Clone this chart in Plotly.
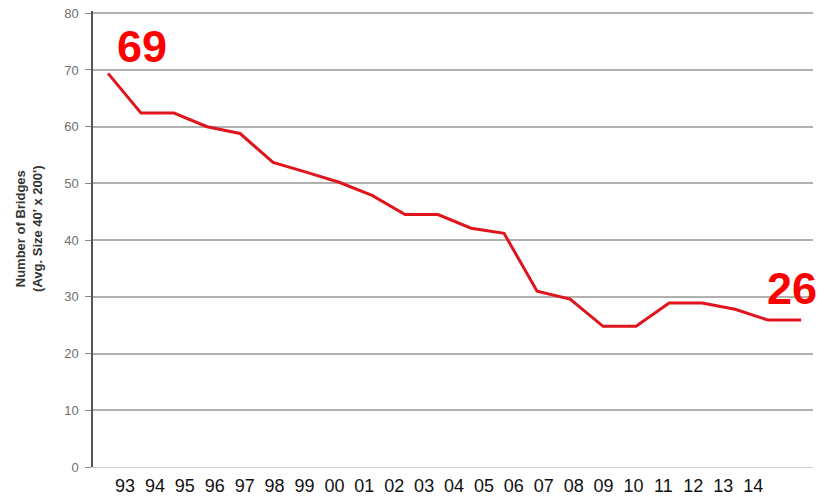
import plotly.graph_objects as go

years = ["93", "94", "95", "96", "97", "98", "99", "00", "01", "02", "03",
         "04", "05", "06", "07", "08", "09", "10", "11", "12", "13", "14"]
bridges = [69.4, 62.4, 62.4, 60.0, 58.8, 53.7, 52.0, 50.2, 47.9, 44.5, 44.5,
           42.1, 41.2, 31.0, 29.6, 24.8, 24.8, 28.9, 28.9, 27.8, 25.9, 25.9]
y_ticks = [0, 10, 20, 30, 40, 50, 60, 70, 80]
first_label = "69"
last_label = "26"
y_title = "<b>Number of Bridges<br>(Avg. Size 40' x 200')</b>"

fig = go.Figure()
fig.add_trace(go.Scatter(
    x=years, y=bridges, mode="lines",
    line=dict(color="#e0141c", width=3),
    hoverinfo="skip", showlegend=False, xaxis="x", yaxis="y"))
# invisible carrier trace for the year label axis
fig.add_trace(go.Scatter(
    x=years, y=bridges, mode="lines", line=dict(width=0, color="rgba(0,0,0,0)"),
    hoverinfo="skip", showlegend=False, xaxis="x2", yaxis="y"))

fig.update_layout(
    width=821, height=503,
    margin=dict(l=93, r=8, t=11, b=36, autoexpand=False),
    paper_bgcolor="white", plot_bgcolor="white",
    font=dict(family="Liberation Sans, Arial, sans-serif"),
    xaxis=dict(type="category", range=[-0.456, 21.36], showticklabels=False,
               showgrid=False, zeroline=False, ticks="", automargin=False,
               showline=True, linecolor="#cfcfcf", linewidth=1),
    xaxis2=dict(type="category", overlaying="x", side="bottom",
                range=[-1.07, 23.0], showgrid=False, zeroline=False, ticks="",
                tickmode="array", tickvals=years, ticktext=years,
                tickfont=dict(size=18, color="#111111"), automargin=False,
                showline=False, ticklabelstandoff=6),
    yaxis=dict(range=[0, 80.4], tickvals=y_ticks, showgrid=True,
               gridcolor="#b0b0b0", gridwidth=1.5, zeroline=False,
               showline=True, linecolor="#555555", linewidth=1.5,
               ticks="outside", ticklen=6, tickcolor="#888888", tickwidth=1,
               ticklabelstandoff=4, ticklabeloverflow="allow", automargin=False,
               tickfont=dict(size=13, color="#707070")),
    shapes=[
        dict(type="rect", xref="paper", yref="paper", x0=0.917, x1=1.02,
             y0=0.36, y1=0.42, fillcolor="white", line=dict(width=0),
             layer="below"),
    ],
    annotations=[
        dict(text=y_title, xref="paper", yref="paper", x=-0.089, y=0.522,
             textangle=-90, showarrow=False,
             font=dict(size=13, color="#333333", family="Liberation Sans, Arial, sans-serif"),
             xanchor="center", yanchor="middle"),
        dict(text="<b>" + first_label + "</b>", xref="paper", yref="paper",
             x=0.068, y=0.923, showarrow=False,
             font=dict(size=45, color="#ff0000"), xanchor="center", yanchor="middle"),
        dict(text="<b>" + last_label + "</b>", xref="paper", yref="paper",
             x=0.971, y=0.392, showarrow=False,
             font=dict(size=45, color="#ff0000"), xanchor="center", yanchor="middle"),
    ],
)

fig.write_html("out.html", config={"displayModeBar": False},
               post_script="document.body.style.margin='0';")
